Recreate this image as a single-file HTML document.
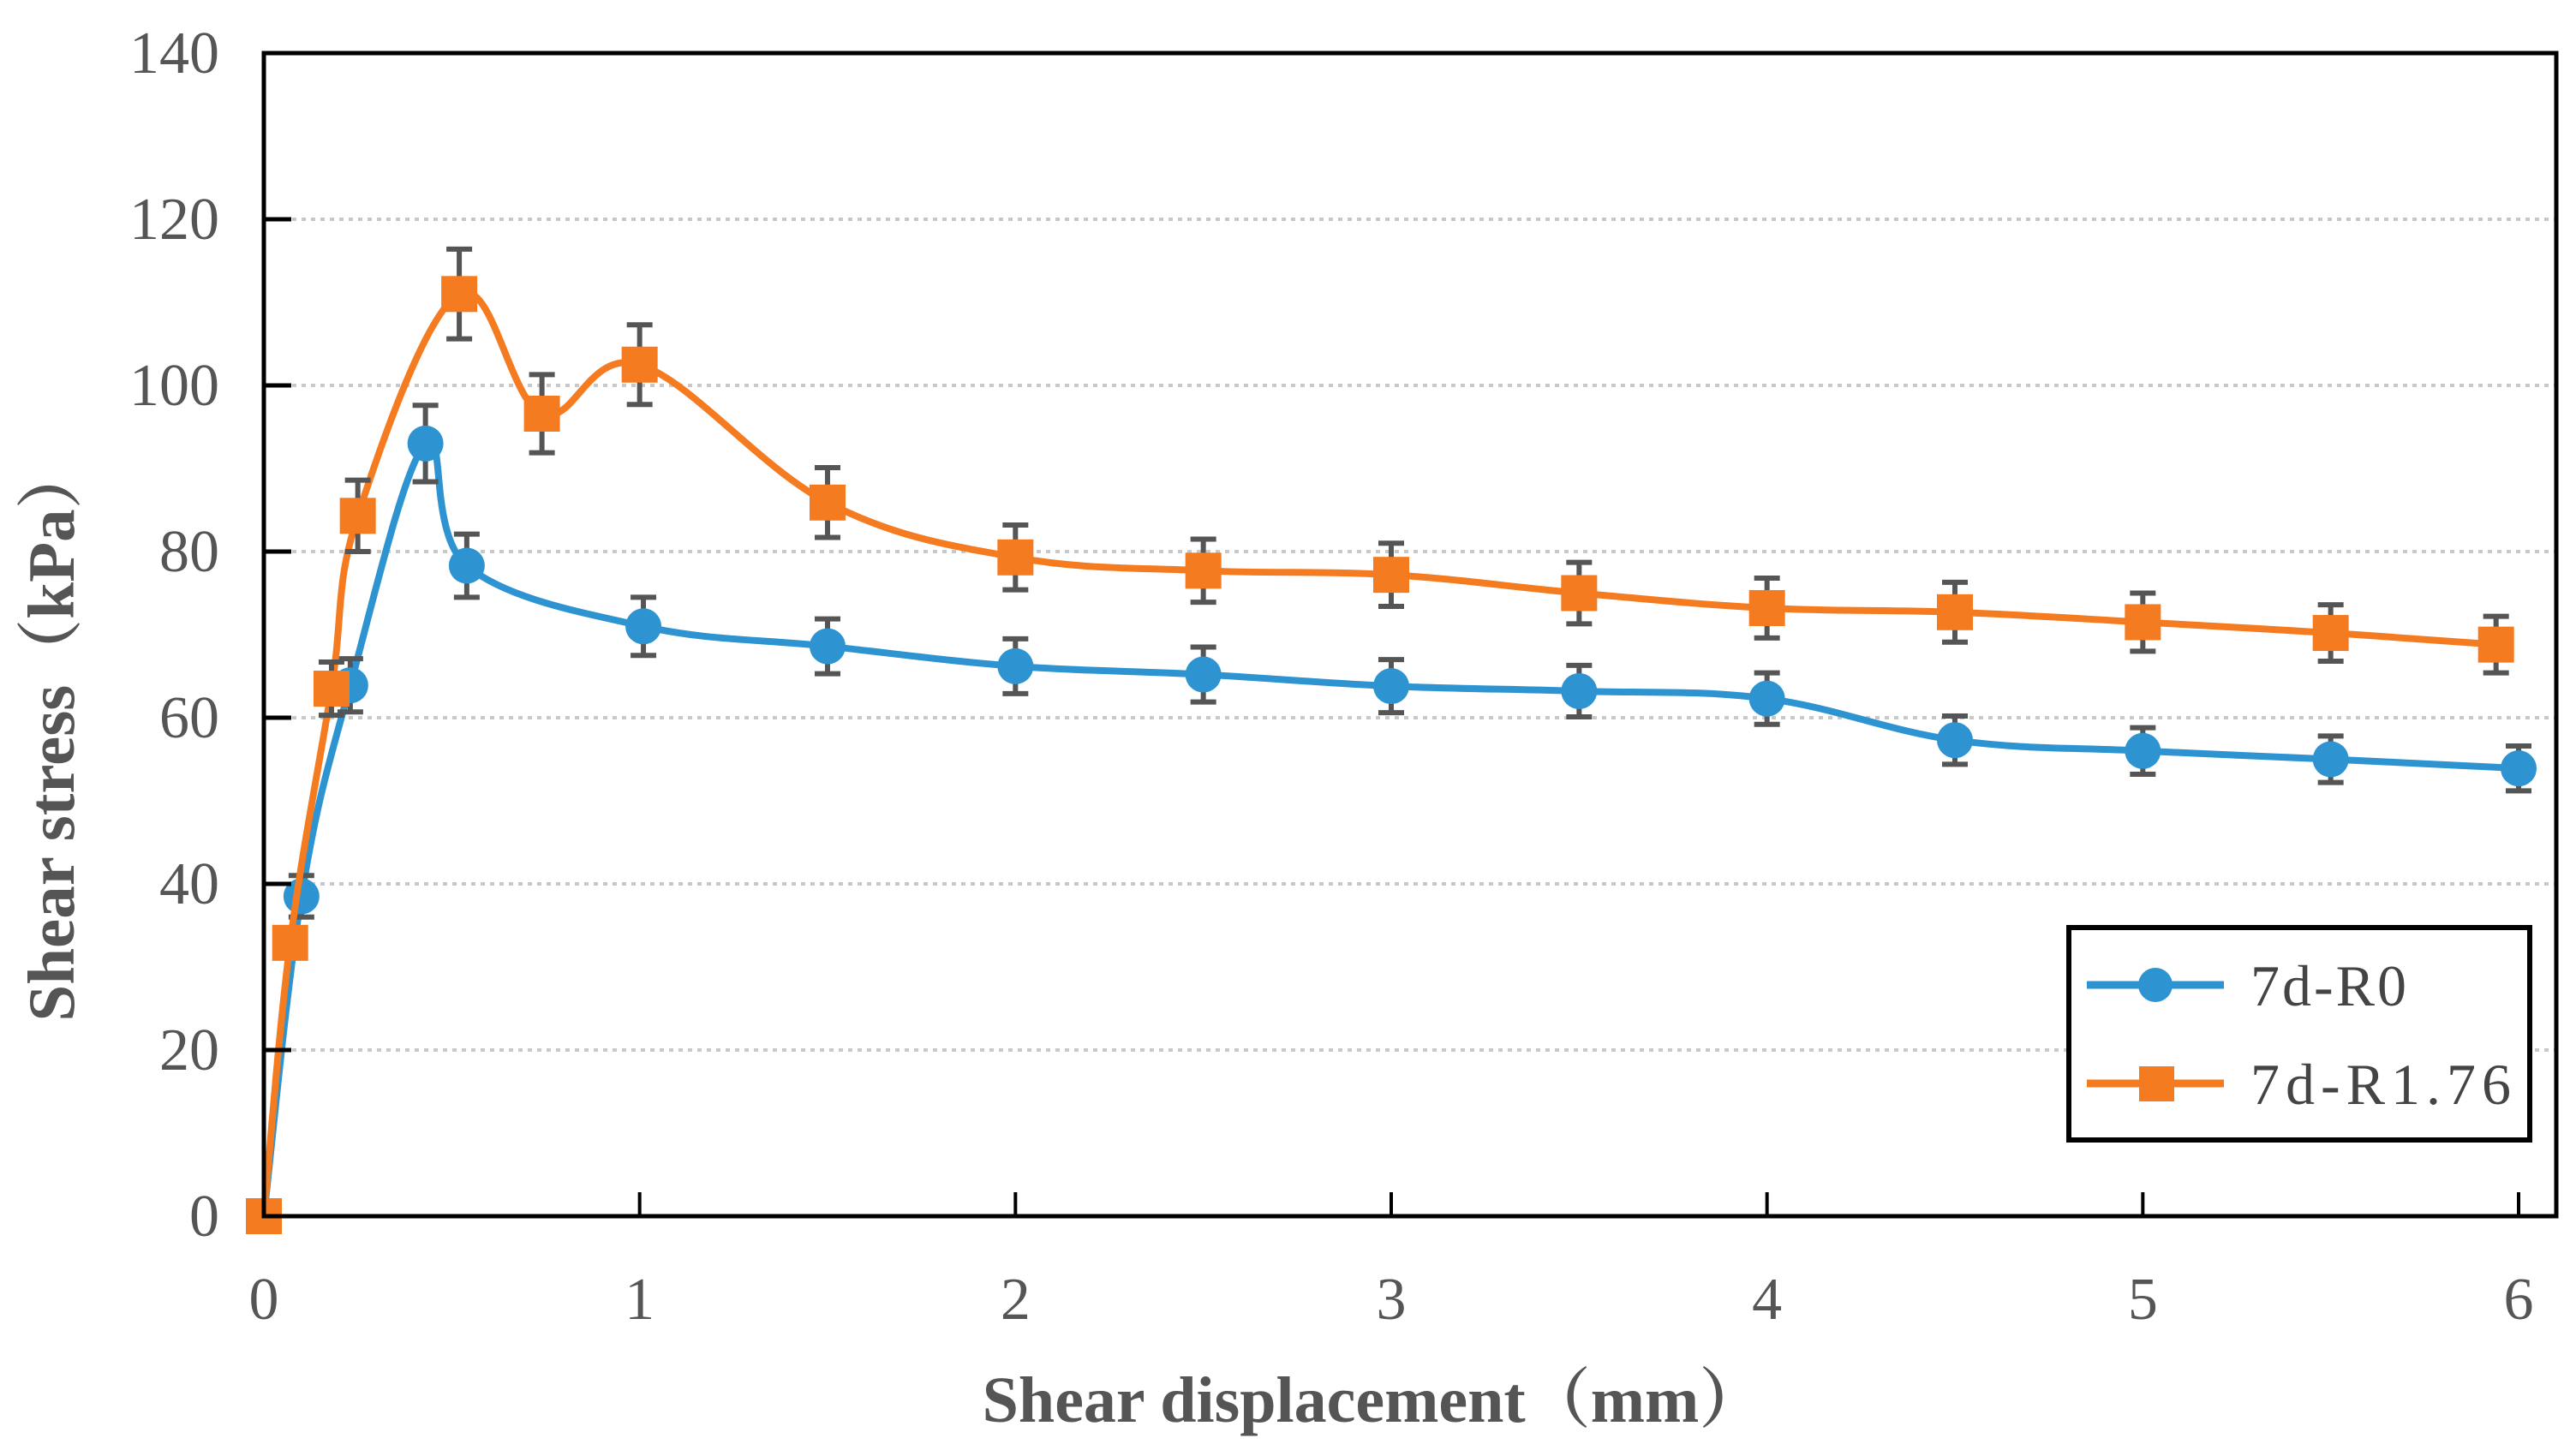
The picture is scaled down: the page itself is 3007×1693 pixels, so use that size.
<!DOCTYPE html>
<html><head><meta charset="utf-8"><style>
html,body{margin:0;padding:0;background:#fff;}
svg{display:block;}
</style></head><body>
<svg id="chart" width="3007" height="1693" viewBox="0 0 3007 1693" xmlns="http://www.w3.org/2000/svg">
<g id="grid"></g>
<g id="series"></g>
<g id="axes"></g>
<g id="legend">
  <rect x="2415" y="1083" width="538" height="248" fill="#fff" stroke="#000" stroke-width="6"/>
  <g>
    <line x1="2436" y1="1150" x2="2596" y2="1150" stroke="#2e93d1" stroke-width="9"/>
    <circle cx="2516" cy="1150" r="20" fill="#2e93d1"/>
    <text x="2627" y="1174" font-family="'Liberation Serif','Noto Serif CJK SC',serif" font-size="68" fill="#444" letter-spacing="3">7d-R0</text>
  </g>
  <g>
    <line x1="2436" y1="1265" x2="2596" y2="1265" stroke="#f47b20" stroke-width="9"/>
    <rect x="2497" y="1245" width="41" height="41" fill="#f47b20"/>
    <text x="2627" y="1289" font-family="'Liberation Serif','Noto Serif CJK SC',serif" font-size="68" fill="#444" letter-spacing="7">7d-R1.76</text>
  </g>
</g>
</svg>
<script>
const xR0 = [0,0.1,0.23,0.43,0.54,1.01,1.5,2,2.5,3,3.5,4,4.5,5,5.5,6];
const yR0 = [0,38.5,63.9,93,78.3,71,68.6,66.2,65.2,63.8,63.2,62.3,57.3,56,55,53.9];
const eR0 = [0,2.5,3.2,4.6,3.8,3.5,3.3,3.3,3.3,3.2,3.1,3.1,2.9,2.8,2.8,2.7];
const xR176 = [0,0.07,0.18,0.25,0.52,0.74,1,1.5,2,2.5,3,3.5,4,4.5,5,5.5,5.94];
const yR176 = [0,32.9,63.5,84.3,111,96.6,102.5,85.9,79.3,77.7,77.2,75,73.2,72.7,71.5,70.2,68.8];
const eR176 = [0,0,3.2,4.3,5.4,4.7,4.8,4.2,3.9,3.8,3.8,3.7,3.6,3.6,3.5,3.4,3.4];
const xTicks = [0,1,2,3,4,5,6];
const yTicks = [0,20,40,60,80,100,120,140];

const X0=308, X1=2940, Y0=1420, Y1=62;
const sx = v => X0 + (X1-X0)*v/6;
const sy = v => Y0 - (Y0-Y1)*v/140;
const NS="http://www.w3.org/2000/svg";
function mk(tag, attrs, parent){const e=document.createElementNS(NS,tag);for(const k in attrs)e.setAttribute(k,attrs[k]);parent.appendChild(e);return e;}
const grid=document.getElementById('grid'), axes=document.getElementById('axes'), ser=document.getElementById('series');
const serif="'Liberation Serif','Noto Serif CJK SC',serif";

yTicks.forEach(t=>{
  if(t>0 && t<140){
    const g=mk('line',{x1:X0,x2:2984,y1:sy(t),y2:sy(t),stroke:'#c8c8c8','stroke-width':4,'stroke-dasharray':'5 6'},grid);
    
    
    const tk=mk('line',{x1:X0,x2:X0+32,y1:sy(t),y2:sy(t),stroke:'#000','stroke-width':5},axes);
    
    
  }
  const lb=mk('text',{x:256,y:sy(t)+23,'text-anchor':'end','font-family':serif,'font-size':70,fill:'#555'},axes);
  lb.textContent=t;
  
  
});
xTicks.forEach(t=>{
  if(t>0){
    const tk=mk('line',{x1:sx(t),x2:sx(t),y1:Y0,y2:Y0-28,stroke:'#000','stroke-width':4},axes);
    
    
  }
  const lb=mk('text',{x:sx(t),y:1540,'text-anchor':'middle','font-family':serif,'font-size':70,fill:'#555'},axes);
  lb.textContent=t;
  
  
});
const frame=mk('rect',{x:X0,y:Y1,width:2984-X0,height:Y0-Y1,fill:'none',stroke:'#000','stroke-width':5},axes);


const xt=mk('text',{x:1603,y:1660,'text-anchor':'middle','font-family':serif,'font-size':76,'font-weight':'bold',fill:'#555'},axes);
xt.textContent='Shear displacement（mm）';


const yt=mk('text',{x:0,y:0,'text-anchor':'middle','font-family':serif,'font-size':77,'font-weight':'bold',fill:'#555',transform:'translate(86,855) rotate(-90)'},axes);
yt.textContent='Shear stress（kPa）';



function curve(xs,ys){
  const p=xs.map((x,i)=>[sx(x),sy(ys[i])]);
  let d='M'+p[0][0]+','+p[0][1];
  for(let i=0;i<p.length-1;i++){
    const p0=p[Math.max(0,i-1)],p1=p[i],p2=p[i+1],p3=p[Math.min(p.length-1,i+2)];
    const t=0.18;
    const c1=[p1[0]+(p2[0]-p0[0])*t,p1[1]+(p2[1]-p0[1])*t];
    const c2=[p2[0]-(p3[0]-p1[0])*t,p2[1]-(p3[1]-p1[1])*t];
    d+=' C'+c1+' '+c2+' '+p2;
  }
  return d;
}
function drawSeries(xs,ys,es,color,shape,name){
  const g=mk('g',{},ser);
  
  
  const path=mk('path',{d:curve(xs,ys),fill:'none',stroke:color,'stroke-width':8},g);
  
  
  xs.forEach((x,i)=>{
    const cx=sx(x),cy=sy(ys[i]);
    if(es[i]>0){
      const eb=mk('path',{d:`M${cx},${sy(ys[i]-es[i])}V${sy(ys[i]+es[i])}M${cx-15},${sy(ys[i]-es[i])}H${cx+15}M${cx-15},${sy(ys[i]+es[i])}H${cx+15}`,stroke:'#555','stroke-width':6,fill:'none'},g);
      
      
    }
    let m;
    if(shape==='circle') m=mk('circle',{cx:cx,cy:cy,r:21,fill:color},g);
    else m=mk('rect',{x:cx-21,y:cy-21,width:42,height:42,fill:color},g);
    
    
  });
}
drawSeries(xR0,yR0,eR0,'#2e93d1','circle','r0');
drawSeries(xR176,yR176,eR176,'#f47b20','square','r176');
</script>
</body></html>
